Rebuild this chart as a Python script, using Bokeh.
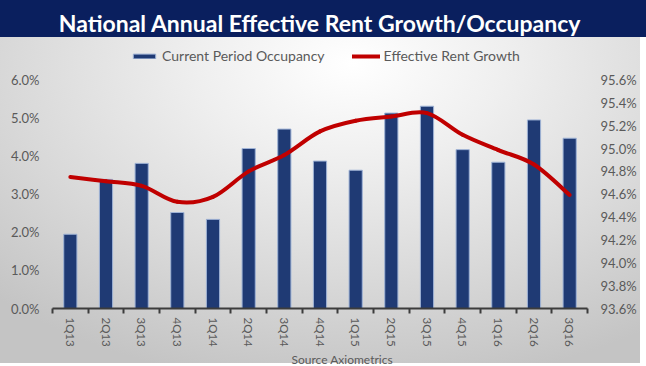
from bokeh.plotting import figure
from bokeh.models import (Range1d, LinearAxis, FixedTicker, Legend, LegendItem,
                          PrintfTickFormatter, Title)
from bokeh.embed import file_html
from bokeh.resources import INLINE

# ---------------- data ----------------
quarters = ["1Q13", "2Q13", "3Q13", "4Q13", "1Q14", "2Q14", "3Q14", "4Q14",
            "1Q15", "2Q15", "3Q15", "4Q15", "1Q16", "2Q16", "3Q16"]
occupancy = [94.25, 94.73, 94.87, 94.44, 94.38, 95.00, 95.17, 94.89,
             94.81, 95.31, 95.37, 94.99, 94.88, 95.25, 95.09]
rent_growth = [3.45, 3.34, 3.22, 2.80, 2.93, 3.60, 4.03, 4.65,
               4.93, 5.04, 5.13, 4.56, 4.16, 3.78, 2.98]
rent_ticks = [0, 1, 2, 3, 4, 5, 6]
occ_ticks = [93.6, 93.8, 94.0, 94.2, 94.4, 94.6, 94.8, 95.0, 95.2, 95.4, 95.6]
title_text = "National Annual Effective Rent Growth/Occupancy"
source_text = "Source Axiometrics"

FONT = "Lato"
GREY = "#5a5a5a"
NAVY = "#0a1f5e"

# headroom above the top tick (room for the legend inside the frame)
HEAD = 0.983
rent_lo, rent_hi = rent_ticks[0], rent_ticks[-1]
occ_lo, occ_hi = occ_ticks[0], occ_ticks[-1]
occ_head = HEAD * (occ_hi - occ_lo) / (rent_hi - rent_lo)

idx = list(range(len(quarters)))
p = figure(width=646, height=366, output_backend="svg", toolbar_location=None,
           x_range=Range1d(-0.5, len(quarters) - 0.5),
           y_range=Range1d(rent_lo, rent_hi + HEAD),
           min_border_left=52, min_border_right=59, min_border_top=40,
           min_border_bottom=56)
p.extra_y_ranges = {"occ": Range1d(occ_lo, occ_hi + occ_head)}
p.grid.visible = False
p.outline_line_color = None
p.background_fill_color = None
p.border_fill_color = None
p.styles = {"background": (
    "linear-gradient(%s, %s) 0 0 / 100%% 37px no-repeat, "
    "radial-gradient(ellipse 80%% 100%% at 55%% 8%%, #ffffff 0%%, #efefef 30%%, "
    "#dadada 65%%, #c4c4c4 100%%) 0 37px / 640px 326px no-repeat, #ffffff" % (NAVY, NAVY))}

# title (white text on the navy band)
p.title.text = title_text
p.title.align = "center"
p.title.text_color = "white"
p.title.text_font = FONT
p.title.text_font_style = "bold"
p.title.text_font_size = "23px"
p.title.standoff = 12

# x axis
xa = p.xaxis[0]
xa.ticker = FixedTicker(ticks=idx, minor_ticks=[i - 0.5 for i in range(len(quarters) + 1)])
xa.major_label_overrides = {i: q for i, q in enumerate(quarters)}
xa.major_label_orientation = "vertical"
xa.major_tick_line_color = None
xa.major_tick_out = 3
xa.minor_tick_line_color = "#3c3c3c"
xa.minor_tick_line_width = 2
xa.minor_tick_out = 5
xa.minor_tick_in = 0
xa.axis_line_color = "#3c3c3c"
xa.axis_line_width = 2
xa.major_label_text_font = FONT
xa.major_label_text_font_size = "11.5px"
xa.major_label_text_color = GREY
xa.major_label_standoff = 4

# source note under the axis
src = Title(text=source_text, align="left", offset=239, standoff=0,
            text_font=FONT, text_font_size="12px", text_font_style="normal",
            text_color=GREY)
p.add_layout(src, "below")

# left axis (rent growth)
ya = p.yaxis[0]
ya.ticker = FixedTicker(ticks=rent_ticks)
ya.formatter = PrintfTickFormatter(format="%.1f%%")
ya.axis_line_color = None
ya.major_tick_line_color = None
ya.minor_tick_line_color = None
ya.major_tick_out = 0
ya.major_label_standoff = 13
ya.major_label_text_font = FONT
ya.major_label_text_font_size = "13px"
ya.major_label_text_color = GREY

# right axis (occupancy)
ra = LinearAxis(y_range_name="occ", ticker=FixedTicker(ticks=occ_ticks),
                formatter=PrintfTickFormatter(format="%.1f%%"))
ra.axis_line_color = None
ra.major_tick_line_color = None
ra.minor_tick_line_color = None
ra.major_tick_out = 0
ra.major_label_standoff = 13
ra.major_label_text_font = FONT
ra.major_label_text_font_size = "13px"
ra.major_label_text_color = GREY
p.add_layout(ra, "right")

# bars (occupancy on right axis)
bars = p.vbar(x=idx, top=occupancy, bottom=occ_lo, width=0.37, y_range_name="occ",
              fill_color="#1f3a74", line_color="#9fb3d6", line_width=1)

# smooth line (rent growth on left axis) drawn as bezier segments
n = len(rent_growth)
x0, y0, x1, y1, cx0, cy0, cx1, cy1 = [], [], [], [], [], [], [], []
for i in range(n - 1):
    im1 = max(i - 1, 0)
    ip2 = min(i + 2, n - 1)
    x0.append(idx[i]); y0.append(rent_growth[i])
    x1.append(idx[i + 1]); y1.append(rent_growth[i + 1])
    cx0.append(idx[i] + (idx[i + 1] - idx[im1]) / 6.0)
    cy0.append(rent_growth[i] + (rent_growth[i + 1] - rent_growth[im1]) / 6.0)
    cx1.append(idx[i + 1] - (idx[ip2] - idx[i]) / 6.0)
    cy1.append(rent_growth[i + 1] - (rent_growth[ip2] - rent_growth[i]) / 6.0)
line = p.bezier(x0=x0, y0=y0, x1=x1, y1=y1, cx0=cx0, cy0=cy0, cx1=cx1, cy1=cy1,
                line_color="#c00000", line_width=4, line_cap="round")

legend = Legend(items=[LegendItem(label="Current Period Occupancy", renderers=[bars]),
                       LegendItem(label="Effective Rent Growth", renderers=[line])],
                orientation="horizontal", location=(78, 244),
                padding=0, margin=0, spacing=27, label_standoff=4,
                glyph_width=28, glyph_height=6, label_height=16,
                border_line_color=None, background_fill_alpha=0,
                label_text_font=FONT, label_text_font_size="14px",
                label_text_color=GREY)
p.add_layout(legend, "center")

open("out.html", "w").write(file_html(p, INLINE))
